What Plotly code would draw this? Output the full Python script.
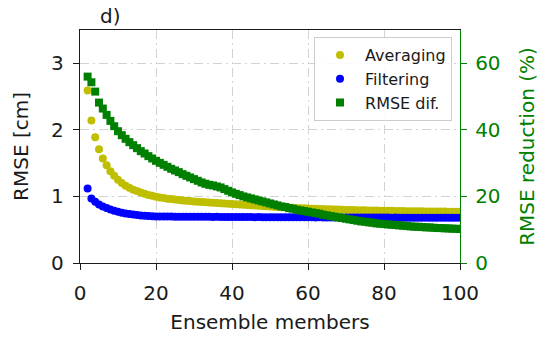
import plotly.graph_objects as go

# Ensemble sizes evaluated
members = list(range(2, 101))

# RMSE [cm] of the averaged ensemble, members 2..100
rmse_averaging = [
    2.59, 2.14, 1.89, 1.71, 1.57, 1.47, 1.38, 1.31, 1.25, 1.20,
    1.16, 1.13, 1.10, 1.08, 1.06, 1.04, 1.02, 1.01, 0.995, 0.985,
    0.975, 0.965, 0.96, 0.952, 0.945, 0.94, 0.934, 0.93, 0.925, 0.92,
    0.915, 0.912, 0.908, 0.904, 0.90, 0.897, 0.893, 0.89, 0.886, 0.882,
    0.878, 0.874, 0.871, 0.867, 0.863, 0.86, 0.856, 0.852, 0.849, 0.846,
    0.842, 0.839, 0.836, 0.833, 0.83, 0.827, 0.824, 0.822, 0.819, 0.816,
    0.814, 0.812, 0.81, 0.808, 0.806, 0.804, 0.802, 0.80, 0.798, 0.797,
    0.795, 0.794, 0.792, 0.791, 0.789, 0.788, 0.787, 0.786, 0.785, 0.784,
    0.783, 0.782, 0.781, 0.78, 0.779, 0.778, 0.778, 0.777, 0.776, 0.775,
    0.775, 0.774, 0.773, 0.773, 0.772, 0.771, 0.771, 0.77, 0.77,
]

# RMSE [cm] of the filtered ensemble, members 2..100
rmse_filtering = [
    1.12, 0.97, 0.92, 0.88, 0.85, 0.825, 0.805, 0.785, 0.77, 0.755,
    0.745, 0.735, 0.728, 0.72, 0.715, 0.71, 0.706, 0.703, 0.70, 0.70,
    0.698, 0.697, 0.697, 0.696, 0.695, 0.696, 0.695, 0.694, 0.695, 0.694,
    0.693, 0.694, 0.693, 0.692, 0.693, 0.692, 0.691, 0.692, 0.691, 0.691,
    0.690, 0.691, 0.690, 0.690, 0.689, 0.690, 0.689, 0.689, 0.688, 0.689,
    0.688, 0.688, 0.687, 0.688, 0.687, 0.687, 0.686, 0.687, 0.686, 0.686,
    0.685, 0.686, 0.685, 0.685, 0.685, 0.684, 0.685, 0.684, 0.684, 0.684,
    0.683, 0.684, 0.683, 0.683, 0.683, 0.682, 0.683, 0.682, 0.682, 0.682,
    0.681, 0.682, 0.681, 0.681, 0.681, 0.681, 0.680, 0.681, 0.680, 0.680,
    0.680, 0.680, 0.679, 0.680, 0.679, 0.679, 0.679, 0.679, 0.678,
]

# RMSE reduction (%) between averaging and filtering, members 2..100
rmse_reduction = [
    56.0, 54.3, 51.5, 48.2, 46.4, 44.5, 42.7, 41.1, 39.6, 38.4,
    37.3, 36.3, 35.4, 34.5, 33.6, 32.9, 32.1, 31.4, 30.7, 30.1,
    29.5, 28.9, 28.3, 27.8, 27.3, 26.7, 26.2, 25.7, 25.2, 24.7,
    24.2, 23.8, 23.5, 23.3, 23.0, 22.7, 22.2, 21.7, 21.2, 20.8,
    20.4, 20.0, 19.7, 19.4, 19.1, 18.8, 18.5, 18.2, 17.9, 17.6,
    17.3, 17.0, 16.8, 16.5, 16.3, 16.0, 15.8, 15.6, 15.4, 15.2,
    15.0, 14.8, 14.5, 14.3, 14.1, 13.9, 13.7, 13.5, 13.3, 13.1,
    12.9, 12.7, 12.5, 12.4, 12.2, 12.1, 11.9, 11.8, 11.7, 11.6,
    11.5, 11.4, 11.3, 11.2, 11.1, 11.0, 10.9, 10.9, 10.8, 10.7,
    10.7, 10.6, 10.5, 10.5, 10.4, 10.4, 10.3, 10.3, 10.2,
]

left_ticks = [0, 1, 2, 3]
right_ticks = [0, 20, 40, 60]
x_ticks = [0, 20, 40, 60, 80, 100]

FONT = "DejaVu Sans"
INK = "#1a1a1a"
GREEN = "#008000"
GRID = "#d3d3d3"
DASHDOT = "9px,4px,2px,4px"

fig = go.Figure()
fig.add_trace(go.Scatter(
    x=members, y=rmse_averaging, mode="markers", name="Averaging",
    marker=dict(color="#bfbf00", size=8, symbol="circle"),
))
fig.add_trace(go.Scatter(
    x=members, y=rmse_filtering, mode="markers", name="Filtering",
    marker=dict(color="#0000ff", size=8, symbol="circle"),
))
fig.add_trace(go.Scatter(
    x=members, y=rmse_reduction, mode="markers", name="RMSE dif.",
    marker=dict(color=GREEN, size=8, symbol="square"),
    yaxis="y2",
))

fig.update_layout(
    width=542, height=338,
    margin=dict(l=80, r=82, t=30, b=75),
    paper_bgcolor="white", plot_bgcolor="white",
    font=dict(family=FONT, size=20, color=INK),
    showlegend=True,
    legend=dict(
        x=0.979, y=0.97, xanchor="right", yanchor="top",
        bgcolor="rgba(255,255,255,0.85)", bordercolor="#cccccc", borderwidth=1,
        font=dict(family=FONT, size=16, color=INK),
        itemwidth=40,
    ),
    xaxis=dict(
        range=[0, 100], tickvals=x_ticks, ticks="outside", ticklen=6, tickwidth=1.3,
        tickcolor=INK, showline=True, linecolor=INK, linewidth=1.3, mirror=True,
        showgrid=True, gridcolor=GRID, gridwidth=1.3, griddash=DASHDOT,
        zeroline=False, ticklabelstandoff=6, automargin=False,
        title=dict(text="Ensemble members", standoff=10, font=dict(size=20)),
        tickfont=dict(size=20),
    ),
    yaxis=dict(
        range=[0, 3.5], tickvals=left_ticks, ticks="outside", ticklen=6, tickwidth=1.3,
        tickcolor=INK, showline=True, linecolor=INK, linewidth=1.3,
        showgrid=True, gridcolor=GRID, gridwidth=1.3, griddash=DASHDOT,
        zeroline=False, ticklabelstandoff=5, automargin=False,
        title=dict(text="RMSE [cm]", standoff=17, font=dict(size=20)),
        tickfont=dict(size=20),
    ),
    yaxis2=dict(
        range=[0, 70], tickvals=right_ticks, overlaying="y", side="right",
        ticks="outside", ticklen=6, tickwidth=1.3, tickcolor=GREEN,
        showline=True, linecolor=GREEN, linewidth=1.3,
        showgrid=False, zeroline=False, ticklabelstandoff=4, automargin=False,
        tickfont=dict(size=20, color=GREEN),
        title=dict(text="RMSE reduction (%)", standoff=20, font=dict(size=20, color=GREEN)),
    ),
    annotations=[dict(
        text="d)", x=0.08, y=1.0, xref="paper", yref="paper",
        xanchor="center", yanchor="bottom", showarrow=False,
        font=dict(family=FONT, size=20, color=INK),
    )],
)

fig.write_html("out.html")
